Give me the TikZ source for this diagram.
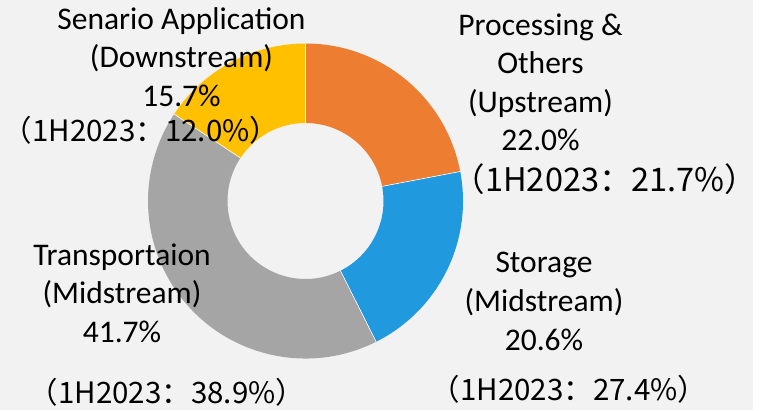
\documentclass[tikz,border=0pt]{standalone}
\usepackage{fontspec}
\setmainfont{Carlito}
\newfontfamily\cjk{Noto Sans CJK SC}
\definecolor{bgc}{HTML}{F2F2F2}
\definecolor{sorange}{HTML}{ED7D31}
\definecolor{sblue}{HTML}{2199DF}
\definecolor{sgray}{HTML}{A5A5A5}
\definecolor{syellow}{HTML}{FFC000}
\tikzset{
  lbl/.style={anchor=base, inner sep=0pt, font=\fontsize{31.5}{38}\selectfont},
  hlbl/.style={anchor=base, inner sep=0pt, font=\cjk\fontsize{29.5}{36}\selectfont},
  hlblbig/.style={anchor=base, inner sep=0pt, font=\cjk\fontsize{32.5}{40}\selectfont},
  slice/.style={draw=white, line width=0.6pt}
}
\newcommand{\donutslice}[3]{%
  \fill[#3] (#1:157.5) arc[start angle=#1, end angle=#2, radius=157.5]
    -- (#2:78) arc[start angle=#2, end angle=#1, radius=78] -- cycle;}
\begin{document}
\begin{tikzpicture}[x=1pt,y=-1pt]
\useasboundingbox (0,0) rectangle (763,410);
\fill[white] (0,0) rectangle (763,410);
\fill[bgc] (0,0) rectangle (752.7,410);
\begin{scope}[shift={(305.5,201)}, yscale=-1]
  \donutslice{90}{10.8}{sorange}
  \donutslice{10.8}{-63.36}{sblue}
  \donutslice{-63.36}{-213.48}{sgray}
  \donutslice{-213.48}{-270}{syellow}
  \foreach \a in {90,10.8,-63.36,-213.48}
    \draw[slice] (\a:78) -- (\a:157.5);
\end{scope}
% top-left
\node[lbl] (tl1) at (181.5,29.3) {Senario Application};
\node[lbl] (tl2) at (181.5,67.8) {(Downstream)};
\node[lbl] (tl3) at (181.5,106.3) {15.7\%};
\node[hlbl] (tl4) at (141,141.5) {（1H2023：12.0\%）};
% top-right
\node[lbl] (tr1) at (540.5,35) {Processing \&};
\node[lbl] (tr2) at (540.5,73.5) {Others};
\node[lbl] (tr3) at (540.5,112) {(Upstream)};
\node[lbl] (tr4) at (540.5,150.5) {22.0\%};
\node[hlblbig] (tr5) at (605,191.5) {（1H2023：21.7\%）};
% bottom-left
\node[lbl] (bl1) at (122,265) {Transportaion};
\node[lbl] (bl2) at (122,303.5) {(Midstream)};
\node[lbl] (bl3) at (122,342.5) {41.7\%};
\node[hlbl] (bl4) at (167,403) {（1H2023：38.9\%）};
% bottom-right
\node[lbl] (br1) at (544,272.3) {Storage};
\node[lbl] (br2) at (544,311) {(Midstream)};
\node[lbl] (br3) at (544,350) {20.6\%};
\node[hlbl] (br4) at (569,400) {（1H2023：27.4\%）};
\end{tikzpicture}
\end{document}
